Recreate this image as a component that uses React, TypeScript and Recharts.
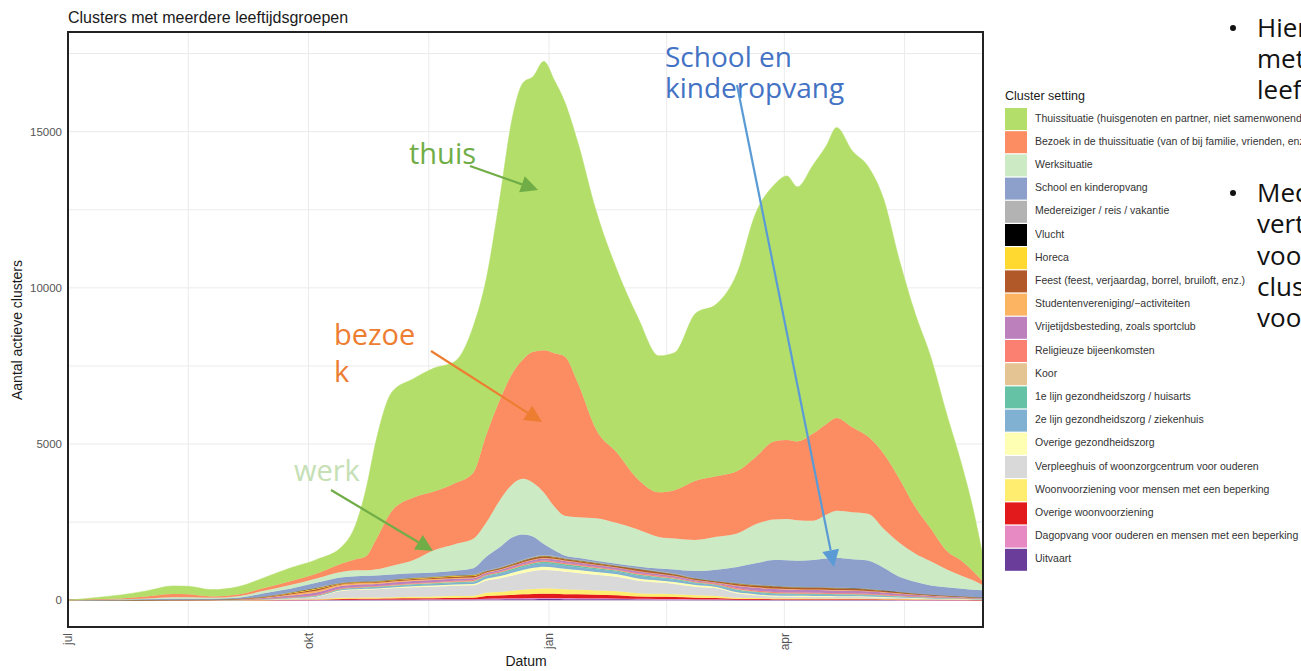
import { AreaChart, Area, XAxis, YAxis, CartesianGrid } from 'recharts'

// Days since 1 July 2020 (one row per reading)
const days = [
  0, 10, 20, 30, 40, 46, 55,
  65, 75, 85, 95,
  105, 110, 114, 118, 124, 132, 140, 148, 155,
  160, 165, 170, 174, 178, 182, 186, 190, 195, 202, 210,
  218, 226, 232, 240, 248,
  256, 263, 270, 275, 279, 285, 290, 294, 300, 306, 312, 318, 324, 330, 336, 342, 346, 350,
]

const thuis = [
  0, 50, 110, 180, 260, 260, 220,
  250, 330, 430, 450,
  550, 1100, 2150, 3200, 3800, 3800, 3950, 3900, 4690,
  5000, 6400, 8200, 8850, 8820, 9250, 8750, 8150, 7700, 7000, 5850,
  5180, 4370, 4400, 5350, 5510,
  6350, 7800, 8200, 8450, 8150, 8600, 8900, 9300, 8850, 8650, 8150, 7000, 6200, 5500, 4400, 3050, 2050, 800,
]
const bezoek = [
  0, 15, 30, 60, 100, 90, 40,
  50, 90, 120, 150,
  270, 350, 450, 980, 1770, 2000, 1880, 1950, 2110,
  2800, 3200, 3550, 3820, 4200, 4550, 4900, 5100, 4300, 2840, 2250,
  1610, 1430, 1550, 1900, 1940,
  2000, 2150, 2500, 2530, 2520, 2790, 2900, 2970, 2720, 2470, 2400, 2050, 1500, 1050, 600, 470, 300, 120,
]
const werk = [
  0, 7, 15, 30, 50, 50, 35,
  50, 80, 120, 140,
  180, 190, 180, 200, 280, 420, 710, 850, 940,
  1100, 1490, 1700, 1780, 1720, 1650, 1400, 1270, 1300, 1360, 1300,
  1180, 1010, 990, 990, 1050,
  1070, 1250, 1300, 1320, 1300, 1260, 1400, 1510, 1500, 1500, 1250, 1090, 900, 770, 580, 410, 310, 160,
]
const school = [
  0, 5, 9, 18, 30, 28, 20,
  30, 100, 110, 150,
  170, 170, 170, 170, 160, 140, 130, 140, 200,
  440, 640, 830, 810, 640, 355, 190, 80, 60, 50, 50,
  60, 90, 130, 230, 360,
  510, 680, 820, 840, 830, 860, 920, 950, 920, 900, 720, 480, 370, 290, 260, 240, 230, 225,
]
const medereiziger = [
  0, 1, 2, 4, 4, 5, 5,
  3, 6, 12, 19,
  10, 10, 11, 11, 12, 14, 15, 17, 18,
  19, 21, 24, 27, 29, 30, 29, 28, 27, 25, 23,
  21, 19, 18, 15, 13,
  20, 18, 17, 16, 16, 15, 15, 15, 14, 13, 12, 10, 8, 7, 6, 5, 4, 3,
]
const vlucht = [
  0, 0, 0, 0, 0, 0, 0,
  0, 1, 1, 2,
  0, 0, 0, 0, 0, 0, 0, 0, 0,
  0, 0, 0, 0, 0, 0, 0, 0, 0, 0, 0,
  0, 0, 0, 0, 0,
  3, 3, 2, 2, 2, 2, 2, 2, 2, 2, 2, 1, 1, 1, 1, 1, 1, 0,
]
const horeca = [
  0, 1, 1, 2, 4, 4, 5,
  5, 12, 25, 38,
  19, 21, 22, 22, 25, 28, 30, 33, 35,
  10, 11, 12, 13, 14, 15, 15, 14, 13, 13, 12,
  11, 10, 9, 7, 6,
  11, 10, 10, 9, 9, 9, 9, 8, 8, 8, 7, 6, 5, 4, 3, 3, 2, 2,
]
const feest = [
  0, 1, 2, 3, 5, 5, 6,
  6, 14, 30, 46,
  24, 26, 27, 28, 31, 35, 38, 42, 44,
  29, 32, 37, 40, 43, 45, 44, 42, 40, 38, 35,
  53, 48, 44, 37, 32,
  46, 52, 58, 55, 54, 53, 52, 50, 49, 46, 40, 34, 28, 23, 19, 16, 13, 11,
]
const studenten = [
  0, 0, 0, 1, 1, 1, 1,
  7, 18, 38, 57,
  50, 45, 40, 36, 34, 32, 30, 26, 22,
  18, 15, 13, 13, 14, 15, 15, 14, 13, 13, 12,
  11, 10, 9, 7, 6,
  23, 21, 19, 18, 18, 18, 17, 17, 16, 15, 13, 11, 9, 8, 6, 5, 4, 4,
]
const vrijetijd = [
  0, 0, 1, 1, 2, 2, 3,
  10, 24, 50, 76,
  70, 70, 68, 66, 66, 68, 68, 66, 62,
  58, 58, 61, 64, 68, 70, 70, 68, 66, 62, 58,
  63, 57, 53, 44, 38,
  68, 83, 96, 92, 90, 88, 86, 84, 82, 76, 66, 56, 46, 38, 32, 26, 22, 19,
]
const religieus = [
  0, 0, 0, 0, 1, 1, 1,
  2, 5, 10, 15,
  14, 16, 16, 17, 19, 21, 23, 25, 26,
  19, 21, 24, 27, 29, 30, 29, 28, 27, 25, 23,
  32, 29, 26, 22, 19,
  34, 31, 29, 28, 27, 26, 26, 25, 25, 23, 20, 17, 14, 11, 10, 8, 7, 6,
]
const koor = [
  0, 0, 0, 0, 1, 1, 1,
  2, 4, 8, 11,
  10, 10, 11, 11, 12, 14, 15, 17, 18,
  5, 5, 6, 7, 7, 7, 7, 7, 7, 6, 6,
  5, 5, 4, 4, 3,
  11, 10, 10, 9, 9, 9, 9, 8, 8, 8, 7, 6, 5, 4, 3, 3, 2, 2,
]
const eersteLijn = [
  0, 0, 0, 0, 0, 0, 0,
  1, 2, 5, 8,
  14, 16, 16, 17, 19, 21, 23, 25, 26,
  34, 37, 43, 47, 50, 52, 51, 49, 47, 44, 40,
  42, 38, 35, 29, 26,
  29, 26, 24, 23, 23, 22, 22, 21, 21, 19, 17, 14, 12, 10, 8, 7, 6, 5,
]
const tweedeLijn = [
  0, 0, 0, 0, 1, 1, 1,
  2, 5, 10, 15,
  29, 31, 32, 34, 37, 42, 46, 50, 53,
  67, 75, 85, 94, 101, 105, 102, 98, 94, 88, 81,
  84, 76, 70, 58, 51,
  57, 52, 48, 46, 45, 44, 43, 42, 41, 38, 33, 28, 23, 19, 16, 13, 11, 10,
]
const overigeZorg = [
  0, 0, 0, 0, 0, 1, 1,
  2, 4, 8, 11,
  24, 26, 27, 28, 31, 35, 38, 42, 44,
  67, 75, 85, 94, 101, 105, 102, 98, 94, 88, 81,
  74, 67, 62, 51, 45,
  34, 31, 29, 28, 27, 26, 26, 25, 25, 23, 20, 17, 14, 11, 10, 8, 7, 6,
]
const verpleeghuis = [
  0, 0, 0, 1, 1, 1, 1,
  8, 18, 38, 80,
  223, 247, 254, 262, 283, 302, 314, 329, 337,
  384, 428, 488, 536, 576, 598, 584, 560, 536, 500, 460,
  399, 361, 334, 277, 243,
  143, 94, 58, 55, 54, 53, 52, 50, 49, 46, 40, 34, 28, 23, 19, 16, 13, 11,
]
const woonvoorziening = [
  0, 0, 0, 0, 0, 0, 1,
  2, 5, 10, 15,
  34, 36, 38, 39, 43, 49, 53, 58, 62,
  106, 118, 134, 147, 158, 164, 161, 154, 147, 138, 127,
  105, 95, 88, 73, 64,
  34, 31, 29, 28, 27, 26, 26, 25, 25, 23, 20, 17, 14, 11, 10, 8, 7, 6,
]
const overigeWoon = [
  0, 0, 0, 0, 0, 0, 0,
  1, 2, 5, 8,
  24, 26, 27, 28, 31, 35, 38, 42, 44,
  86, 96, 110, 121, 130, 135, 131, 126, 121, 113, 104,
  74, 67, 62, 51, 45,
  23, 21, 19, 18, 18, 18, 17, 17, 16, 15, 13, 11, 9, 8, 6, 5, 4, 4,
]
const dagopvang = [
  0, 0, 0, 0, 0, 0, 0,
  0, 1, 3, 4,
  10, 10, 11, 11, 12, 14, 15, 17, 18,
  24, 27, 31, 34, 36, 37, 37, 35, 34, 31, 29,
  26, 24, 22, 18, 16,
  11, 10, 10, 9, 9, 9, 9, 8, 8, 8, 7, 6, 5, 4, 3, 3, 2, 2,
]
const uitvaart = [
  0, 0, 0, 0, 0, 0, 0,
  0, 1, 3, 4,
  10, 10, 11, 11, 12, 14, 15, 17, 18,
  24, 27, 31, 34, 36, 37, 37, 35, 34, 31, 29,
  21, 19, 18, 15, 13,
  9, 8, 7, 7, 7, 7, 6, 6, 6, 6, 5, 4, 3, 3, 2, 2, 2, 1,
]

const monthTicks = [0, 46, 92, 138, 184, 229, 274, 320]
const monthLabels: Record<number, string> = { 0: 'jul', 92: 'okt', 184: 'jan', 274: 'apr' }
const countTicks = [0, 2500, 5000, 7500, 10000, 12500, 15000, 17500]
const countLabels: Record<number, string> = { 0: '0', 5000: '5000', 10000: '10000', 15000: '15000' }

// legend order (top of stack first)
const SERIES = [
  { key: 'thuis', label: 'Thuissituatie (huisgenoten en partner, niet samenwonende partner)', color: '#B3DE69', values: thuis },
  { key: 'bezoek', label: 'Bezoek in de thuissituatie (van of bij familie, vrienden, enz.)', color: '#FC8D62', values: bezoek },
  { key: 'werk', label: 'Werksituatie', color: '#CCEBC5', values: werk },
  { key: 'school', label: 'School en kinderopvang', color: '#8DA0CB', values: school },
  { key: 'medereiziger', label: 'Medereiziger / reis / vakantie', color: '#B3B3B3', values: medereiziger },
  { key: 'vlucht', label: 'Vlucht', color: '#000000', values: vlucht },
  { key: 'horeca', label: 'Horeca', color: '#FFD92F', values: horeca },
  { key: 'feest', label: 'Feest (feest, verjaardag, borrel, bruiloft, enz.)', color: '#B15928', values: feest },
  { key: 'studenten', label: 'Studentenvereniging/\u2212activiteiten', color: '#FDB462', values: studenten },
  { key: 'vrijetijd', label: 'Vrijetijdsbesteding, zoals sportclub', color: '#BC80BD', values: vrijetijd },
  { key: 'religieus', label: 'Religieuze bijeenkomsten', color: '#FB8072', values: religieus },
  { key: 'koor', label: 'Koor', color: '#E5C494', values: koor },
  { key: 'eersteLijn', label: '1e lijn gezondheidszorg / huisarts', color: '#66C2A5', values: eersteLijn },
  { key: 'tweedeLijn', label: '2e lijn gezondheidszorg / ziekenhuis', color: '#80B1D3', values: tweedeLijn },
  { key: 'overigeZorg', label: 'Overige gezondheidszorg', color: '#FFFFB3', values: overigeZorg },
  { key: 'verpleeghuis', label: 'Verpleeghuis of woonzorgcentrum voor ouderen', color: '#D9D9D9', values: verpleeghuis },
  { key: 'woonvoorziening', label: 'Woonvoorziening voor mensen met een beperking', color: '#FFED6F', values: woonvoorziening },
  { key: 'overigeWoon', label: 'Overige woonvoorziening', color: '#E31A1C', values: overigeWoon },
  { key: 'dagopvang', label: 'Dagopvang voor ouderen en mensen met een beperking', color: '#E78AC3', values: dagopvang },
  { key: 'uitvaart', label: 'Uitvaart', color: '#6A3D9A', values: uitvaart },
]

const chartData = days.map((day, i) => {
  const row: Record<string, number> = { day }
  SERIES.forEach((s) => {
    row[s.key] = s.values[i]
  })
  return row
})

const FONT = '"Liberation Sans", Arial, sans-serif'
const SLIDE_FONT = '"Open Sans", Lato, sans-serif'

function MonthTick(props: any) {
  const { x, y, payload } = props
  const label = monthLabels[payload.value]
  if (!label) return null
  return (
    <text
      x={x}
      y={y}
      transform={`rotate(-90 ${x} ${y})`}
      textAnchor="end"
      dy="0.35em"
      fill="#555"
      fontSize={12}
      fontFamily={FONT}
    >
      {label}
    </text>
  )
}

function Arrow({ x1, y1, x2, y2, color, head = 17, width = 2.2 }: any) {
  const ang = Math.atan2(y2 - y1, x2 - x1)
  const bx = x2 - head * Math.cos(ang)
  const by = y2 - head * Math.sin(ang)
  const px = -Math.sin(ang) * head * 0.5
  const py = Math.cos(ang) * head * 0.5
  return (
    <g>
      <line x1={x1} y1={y1} x2={bx} y2={by} stroke={color} strokeWidth={width} />
      <polygon points={`${x2},${y2} ${bx + px},${by + py} ${bx - px},${by - py}`} fill={color} />
    </g>
  )
}

export default function App() {
  const stackOrder = [...SERIES].reverse()
  return (
    <div
      style={{
        position: 'absolute',
        left: 0,
        top: 0,
        width: 1301,
        height: 671,
        overflow: 'hidden',
        background: '#fff',
      }}
    >
      <AreaChart
        width={1301}
        height={671}
        data={chartData}
        margin={{ top: 32, right: 318, bottom: 0, left: 8 }}
      >
        <CartesianGrid stroke="#ebebeb" strokeWidth={1} />
        <XAxis
          dataKey="day"
          type="number"
          domain={[0, 350]}
          ticks={monthTicks}
          allowDataOverflow
          height={44}
          axisLine={false}
          tickLine={false}
          tickSize={0}
          tickMargin={6}
          tick={<MonthTick />}
          interval={0}
        />
        <YAxis
          type="number"
          domain={[-856, 18190]}
          ticks={countTicks}
          allowDataOverflow
          width={60}
          axisLine={false}
          tickLine={false}
          tickSize={0}
          tickMargin={6}
          interval={0}
          tickFormatter={(v: number) => countLabels[v] ?? ''}
          tick={{ fill: '#555', fontSize: 11.5, fontFamily: FONT }}
        />
        {stackOrder.map((s) => (
          <Area
            key={s.key}
            dataKey={s.key}
            stackId="clusters"
            type="monotone"
            fill={s.color}
            fillOpacity={1}
            stroke={s.color}
            strokeWidth={0.5}
            dot={false}
            activeDot={false}
            isAnimationActive={false}
          />
        ))}
      </AreaChart>

      <svg
        width={1301}
        height={671}
        style={{ position: 'absolute', left: 0, top: 0, pointerEvents: 'none' }}
      >
        {/* panel border */}
        <rect x={68} y={32} width={915} height={595} fill="none" stroke="#222" strokeWidth={2} />

        {/* titles */}
        <text x={68} y={23} fontSize={16} fontFamily={FONT} fill="#1a1a1a">
          Clusters met meerdere leeftijdsgroepen
        </text>
        <text
          x={22}
          y={330}
          transform="rotate(-90 22 330)"
          textAnchor="middle"
          fontSize={14}
          fontFamily={FONT}
          fill="#1a1a1a"
        >
          Aantal actieve clusters
        </text>
        <text x={526} y={666} textAnchor="middle" fontSize={14} fontFamily={FONT} fill="#1a1a1a">
          Datum
        </text>

        {/* legend */}
        <text x={1005} y={100} fontSize={12.5} fontFamily={FONT} fill="#1a1a1a">
          Cluster setting
        </text>
        {SERIES.map((s, i) => (
          <g key={s.key}>
            <rect x={1005} y={108 + i * 23.2} width={22} height={22} fill={s.color} />
            <text
              x={1035}
              y={118 + i * 23.2}
              dy="0.35em"
              fontSize={10.5}
              fontFamily={FONT}
              fill="#333"
            >
              {s.label}
            </text>
          </g>
        ))}

        {/* annotations */}
        <text x={409} y={164} fontSize={29} fontFamily={SLIDE_FONT} fill="#70AD47">thuis</text>
        <Arrow x1={470} y1={166} x2={538} y2={190} color="#70AD47" />
        <text x={334} y={345} fontSize={29} fontFamily={SLIDE_FONT} fill="#ED7D31">bezoe</text>
        <text x={334} y={382} fontSize={29} fontFamily={SLIDE_FONT} fill="#ED7D31">k</text>
        <Arrow x1={431} y1={351} x2={542} y2={422} color="#ED7D31" />
        <text x={294} y={481} fontSize={29} fontFamily={SLIDE_FONT} fill="#C5E0B4">werk</text>
        <Arrow x1={331} y1={490} x2={433} y2={551} color="#70AD47" />
        <text x={665} y={67} fontSize={28} fontFamily={SLIDE_FONT} fill="#4472C4">School en</text>
        <text x={665} y={98} fontSize={28} fontFamily={SLIDE_FONT} fill="#4472C4">kinderopvang</text>
        <Arrow x1={737} y1={85} x2={834} y2={567} color="#5B9BD5" />

        {/* slide text on the right */}
        {[
          { t: 'Hier', y: 37, bullet: true },
          { t: 'met', y: 68 },
          { t: 'leef', y: 99 },
          { t: 'Med', y: 202, bullet: true },
          { t: 'vert', y: 233 },
          { t: 'voo', y: 265 },
          { t: 'clus', y: 296 },
          { t: 'voo', y: 327 },
        ].map((l) => (
          <g key={l.t + l.y}>
            {l.bullet && <circle cx={1233} cy={l.y - 9} r={3} fill="#111" />}
            <text x={1257} y={l.y} fontSize={26} fontFamily={SLIDE_FONT} fill="#111">
              {l.t}
            </text>
          </g>
        ))}
      </svg>
    </div>
  )
}
